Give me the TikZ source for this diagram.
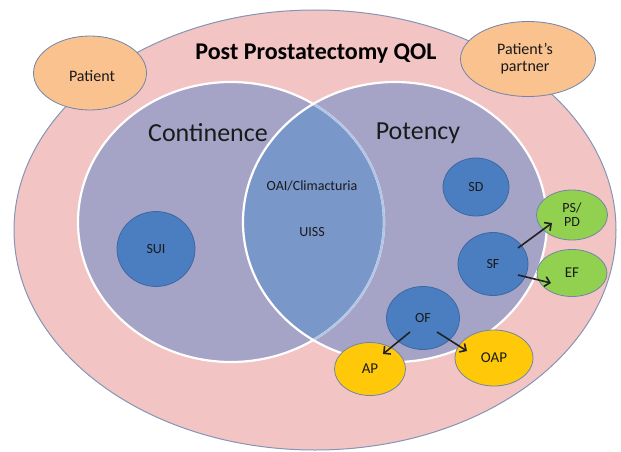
\documentclass[tikz,border=0pt]{standalone}
\usepackage{fontspec}
\setmainfont{Carlito}
\usetikzlibrary{arrows.meta,shapes.geometric}
\definecolor{pinkbg}{HTML}{F3C4C4}
\definecolor{outerline}{HTML}{8595B5}
\definecolor{lavender}{HTML}{A5A4C7}
\definecolor{lens}{HTML}{7A97C9}
\definecolor{lensline}{HTML}{B3C6E6}
\definecolor{blueball}{HTML}{4A7EC1}
\definecolor{blueline}{HTML}{3D68A3}
\definecolor{greenball}{HTML}{92D050}
\definecolor{yellowball}{HTML}{FFC90A}
\definecolor{orangeball}{HTML}{F9C28F}
\definecolor{softline}{HTML}{7086A8}
\definecolor{txt}{HTML}{1A1A1A}
\definecolor{arrowcol}{HTML}{222222}
\tikzset{
  ball/.style={ellipse, draw=blueline, fill=blueball, line width=0.8pt, inner sep=0pt, text=txt, font=\fontsize{14}{16}\selectfont},
  greenb/.style={ellipse, draw=softline, fill=greenball, line width=0.8pt, inner sep=0pt, text=txt, font=\fontsize{15}{17}\selectfont},
  yellowb/.style={ellipse, draw=softline, fill=yellowball, line width=0.8pt, inner sep=0pt, text=txt, font=\fontsize{15}{17}\selectfont},
  orangeb/.style={ellipse, draw=softline, fill=orangeball, line width=0.8pt, inner sep=0pt, text=txt, font=\fontsize{16}{18}\selectfont},
  lbl/.style={text=txt, inner sep=0pt},
  arr/.style={draw=arrowcol, line width=1.6pt, -{Straight Barb[length=5pt,width=10pt,line width=1.6pt]}}
}
\begin{document}
\begin{tikzpicture}[x=1pt,y=-1pt]
\useasboundingbox (0,0) rectangle (621,452);
% outer ellipse
\filldraw[fill=pinkbg, draw=outerline, line width=1pt] (315,230) ellipse [x radius=301pt, y radius=220pt];
% two big circles
\fill[lavender] (231,222) ellipse [x radius=153pt, y radius=140pt];
\fill[lavender] (395,222) ellipse [x radius=152pt, y radius=140pt];
\begin{scope}
  \clip (231,222) ellipse [x radius=153pt, y radius=140pt];
  \fill[lens] (395,222) ellipse [x radius=152pt, y radius=140pt];
\end{scope}
\draw[white, line width=2.2pt] (231,222) ellipse [x radius=153pt, y radius=140pt];
\begin{scope}
  \clip (395,222) ellipse [x radius=152pt, y radius=140pt];
  \draw[lensline, line width=2.2pt] (231,222) ellipse [x radius=153pt, y radius=140pt];
\end{scope}
\draw[white, line width=2.2pt] (395,222) ellipse [x radius=152pt, y radius=140pt];
% titles
\node[lbl, font=\fontsize{24}{28}\selectfont\bfseries, text=black] (title) at (316,54) {Post Prostatectomy QOL};
\node[lbl, font=\fontsize{26}{30}\selectfont] (cont) at (208,133) {Continence};
\node[lbl, font=\fontsize{26}{30}\selectfont] (pot) at (418,133) {Potency};
\node[lbl, font=\fontsize{14}{16}\selectfont] (oai) at (312,186) {OAI/Climacturia};
\node[lbl, font=\fontsize{14}{16}\selectfont] (uiss) at (312,232) {UISS};
% orange
\node[orangeb, minimum width=113pt, minimum height=74pt] (patient) at (90,73) {};
\node[lbl, font=\fontsize{16}{18}\selectfont] at (92,76) {Patient};
\node[orangeb, minimum width=135pt, minimum height=75pt] (partner) at (528,59) {};
\node[lbl, font=\fontsize{16}{18}\selectfont, align=center] at (525,59) {Patient’s\\[-1pt]partner};
% blue balls
\node[ball, minimum width=78pt, minimum height=75pt] (sui) at (156,249) {SUI};
\node[ball, minimum width=66pt, minimum height=58pt] (sd) at (476,187) {SD};
\node[ball, minimum width=70pt, minimum height=63pt] (sf) at (493,264) {SF};
\node[ball, minimum width=73pt, minimum height=63pt] (of) at (423,318) {OF};
% green
\node[greenb, minimum width=71pt, minimum height=50pt, align=center, font=\fontsize{14}{14}\selectfont] (pspd) at (572,215) {PS/\\PD};
\node[greenb, minimum width=70pt, minimum height=47pt] (ef) at (572,273) {EF};
% yellow
\node[yellowb, minimum width=71pt, minimum height=53pt] (ap) at (370,369) {AP};
\node[yellowb, minimum width=78pt, minimum height=56pt] (oap) at (494,358) {OAP};
% arrows
\draw[arr] ([shift={(25,-16)}]sf.center) -- ([shift={(-20,8)}]pspd.center);
\draw[arr] ([shift={(25,11)}]sf.center) -- ([shift={(-21,10)}]ef.center);
\draw[arr] ([shift={(-13,14)}]of.center) -- ([shift={(13,-15)}]ap.center);
\draw[arr] ([shift={(14,14)}]of.center) -- ([shift={(-27,-7)}]oap.center);
\end{tikzpicture}
\end{document}
